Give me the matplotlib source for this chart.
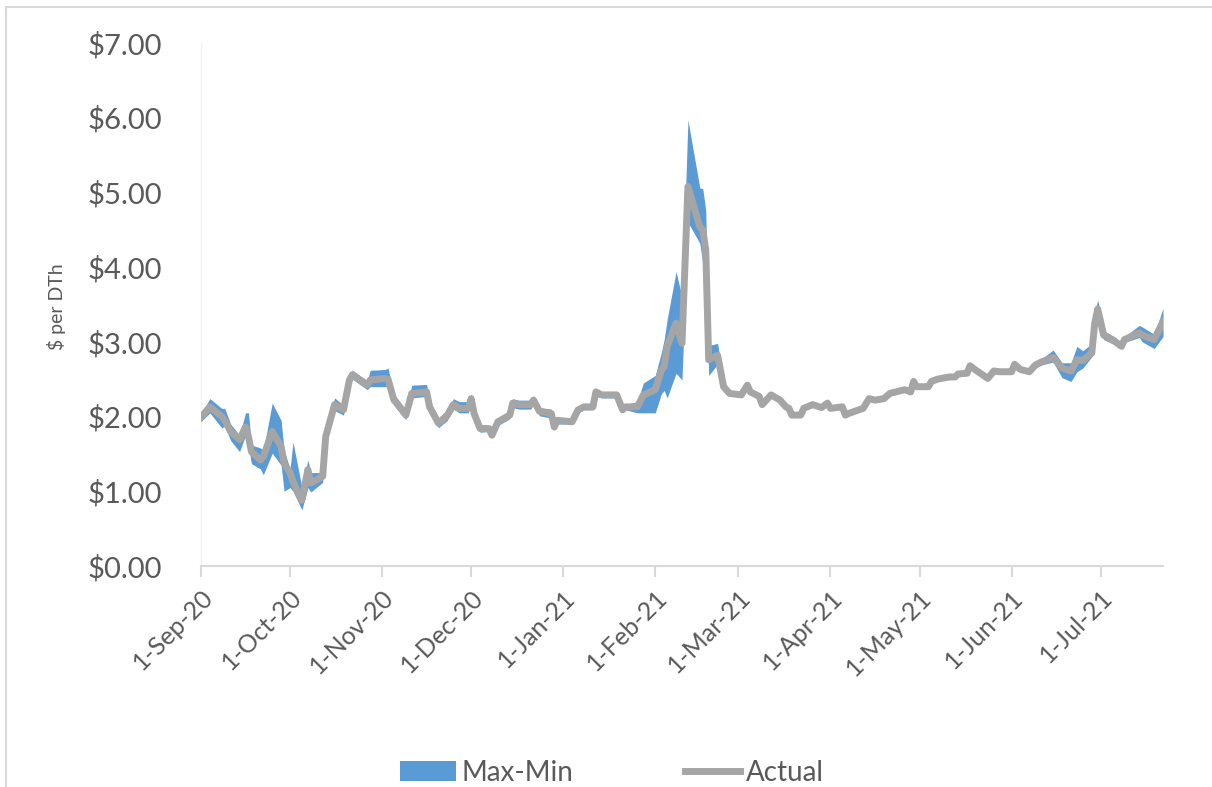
import pandas as pd
import matplotlib.pyplot as plt
import matplotlib.dates as mdates
from matplotlib.patches import Rectangle, Patch
from matplotlib.lines import Line2D
from matplotlib.ticker import FuncFormatter

plt.rcParams['font.family'] = ['Lato', 'DejaVu Sans']

# gas price, $ per DTh - actual and the max/min band
dates = ['2020-09-01', '2020-09-04', '2020-09-08', '2020-09-09', '2020-09-11', '2020-09-14',
         '2020-09-16', '2020-09-17', '2020-09-18', '2020-09-21', '2020-09-22', '2020-09-25',
         '2020-09-28', '2020-09-29', '2020-10-01', '2020-10-02', '2020-10-05', '2020-10-07',
         '2020-10-08', '2020-10-12', '2020-10-13', '2020-10-16', '2020-10-19', '2020-10-21',
         '2020-10-22', '2020-10-27', '2020-10-28', '2020-11-02', '2020-11-03', '2020-11-05',
         '2020-11-06', '2020-11-09', '2020-11-11', '2020-11-16', '2020-11-17', '2020-11-20',
         '2020-11-23', '2020-11-25', '2020-11-27', '2020-11-30', '2020-12-01', '2020-12-02',
         '2020-12-04', '2020-12-07', '2020-12-08', '2020-12-10', '2020-12-14', '2020-12-15',
         '2020-12-17', '2020-12-21', '2020-12-22', '2020-12-24', '2020-12-28', '2020-12-29',
         '2020-12-30', '2021-01-04', '2021-01-06', '2021-01-08', '2021-01-11', '2021-01-12',
         '2021-01-14', '2021-01-19', '2021-01-21', '2021-01-22', '2021-01-26', '2021-01-28',
         '2021-02-01', '2021-02-03', '2021-02-04', '2021-02-05', '2021-02-08', '2021-02-10',
         '2021-02-12', '2021-02-16', '2021-02-17', '2021-02-18', '2021-02-19', '2021-02-22',
         '2021-02-24', '2021-02-26', '2021-03-02', '2021-03-04', '2021-03-05', '2021-03-08',
         '2021-03-09', '2021-03-12', '2021-03-15', '2021-03-17', '2021-03-18', '2021-03-19',
         '2021-03-22', '2021-03-23', '2021-03-26', '2021-03-29', '2021-03-31', '2021-04-01',
         '2021-04-05', '2021-04-06', '2021-04-07', '2021-04-12', '2021-04-14', '2021-04-16',
         '2021-04-19', '2021-04-21', '2021-04-26', '2021-04-28', '2021-04-29', '2021-04-30',
         '2021-05-04', '2021-05-05', '2021-05-07', '2021-05-11', '2021-05-13', '2021-05-14',
         '2021-05-17', '2021-05-18', '2021-05-20', '2021-05-24', '2021-05-26', '2021-05-28',
         '2021-06-01', '2021-06-02', '2021-06-04', '2021-06-07', '2021-06-09', '2021-06-11',
         '2021-06-15', '2021-06-18', '2021-06-21', '2021-06-23', '2021-06-25', '2021-06-28',
         '2021-06-29', '2021-06-30', '2021-07-02', '2021-07-06', '2021-07-08', '2021-07-09',
         '2021-07-14', '2021-07-15', '2021-07-19', '2021-07-22']

actual = [1.99, 2.13, 2.00, 1.95, 1.80, 1.69, 1.86, 1.73, 1.53, 1.42, 1.46, 1.80,
          1.60, 1.37, 1.25, 1.13, 0.88, 1.29, 1.11, 1.20, 1.73, 2.16, 2.09, 2.49,
          2.56, 2.42, 2.49, 2.51, 2.50, 2.22, 2.18, 2.02, 2.31, 2.33, 2.13, 1.91,
          2.02, 2.16, 2.11, 2.11, 2.24, 2.04, 1.84, 1.84, 1.75, 1.93, 2.02, 2.18,
          2.16, 2.16, 2.22, 2.07, 2.04, 1.86, 1.95, 1.93, 2.09, 2.13, 2.13, 2.33,
          2.29, 2.29, 2.09, 2.13, 2.13, 2.29, 2.36, 2.62, 2.67, 2.94, 3.25, 2.98,
          5.08, 4.54, 4.50, 4.23, 2.76, 2.82, 2.40, 2.31, 2.29, 2.42, 2.33, 2.27,
          2.16, 2.29, 2.22, 2.13, 2.11, 2.02, 2.02, 2.11, 2.16, 2.12, 2.18, 2.11,
          2.13, 2.02, 2.04, 2.11, 2.24, 2.22, 2.24, 2.31, 2.36, 2.33, 2.47, 2.40,
          2.40, 2.47, 2.50, 2.53, 2.53, 2.57, 2.58, 2.68, 2.62, 2.51, 2.61, 2.60,
          2.60, 2.70, 2.63, 2.60, 2.69, 2.73, 2.79, 2.65, 2.61, 2.76, 2.75, 2.85,
          3.25, 3.44, 3.09, 3.00, 2.94, 3.03, 3.12, 3.09, 3.03, 3.27]

low = [1.93, 2.05, 1.85, 1.87, 1.68, 1.53, 1.75, 1.60, 1.37, 1.30, 1.22, 1.51,
       1.35, 1.00, 1.05, 1.00, 0.75, 1.05, 0.99, 1.12, 1.65, 2.08, 2.02, 2.42,
       2.50, 2.36, 2.40, 2.40, 2.40, 2.15, 2.10, 1.96, 2.25, 2.27, 2.07, 1.85,
       1.95, 2.10, 2.05, 2.05, 2.18, 1.99, 1.79, 1.80, 1.72, 1.88, 1.97, 2.12,
       2.10, 2.10, 2.16, 2.01, 1.98, 1.82, 1.90, 1.90, 2.05, 2.09, 2.09, 2.27,
       2.25, 2.25, 2.05, 2.09, 2.05, 2.05, 2.05, 2.30, 2.35, 2.25, 2.58, 2.49,
       4.60, 4.32, 4.05, 4.00, 2.55, 2.70, 2.35, 2.28, 2.26, 2.38, 2.30, 2.24,
       2.13, 2.26, 2.19, 2.10, 2.08, 2.00, 2.00, 2.08, 2.13, 2.10, 2.15, 2.08,
       2.10, 2.00, 2.01, 2.08, 2.21, 2.19, 2.21, 2.28, 2.33, 2.30, 2.43, 2.37,
       2.37, 2.44, 2.47, 2.50, 2.50, 2.54, 2.55, 2.64, 2.59, 2.48, 2.58, 2.57,
       2.57, 2.66, 2.60, 2.57, 2.65, 2.69, 2.73, 2.52, 2.47, 2.60, 2.65, 2.80,
       3.15, 3.35, 3.03, 2.96, 2.91, 2.99, 3.06, 3.00, 2.91, 3.07]

high = [2.04, 2.24, 2.11, 2.11, 1.90, 1.75, 2.05, 2.05, 1.62, 1.58, 1.55, 2.18,
        1.95, 1.55, 1.30, 1.66, 1.05, 1.42, 1.25, 1.25, 1.80, 2.25, 2.15, 2.55,
        2.62, 2.48, 2.62, 2.63, 2.65, 2.30, 2.25, 2.08, 2.42, 2.43, 2.18, 1.97,
        2.08, 2.24, 2.20, 2.20, 2.30, 2.10, 1.90, 1.88, 1.80, 1.98, 2.07, 2.24,
        2.22, 2.22, 2.28, 2.12, 2.10, 1.92, 1.99, 1.97, 2.12, 2.16, 2.16, 2.37,
        2.33, 2.33, 2.14, 2.16, 2.20, 2.45, 2.55, 2.85, 3.03, 3.30, 3.94, 3.60,
        5.97, 5.06, 5.05, 4.76, 2.95, 2.98, 2.45, 2.35, 2.33, 2.46, 2.36, 2.30,
        2.19, 2.32, 2.25, 2.16, 2.14, 2.05, 2.05, 2.14, 2.19, 2.15, 2.21, 2.14,
        2.16, 2.05, 2.07, 2.14, 2.27, 2.25, 2.27, 2.34, 2.39, 2.36, 2.50, 2.43,
        2.43, 2.50, 2.53, 2.56, 2.57, 2.60, 2.61, 2.72, 2.65, 2.54, 2.64, 2.63,
        2.63, 2.73, 2.66, 2.63, 2.72, 2.77, 2.89, 2.72, 2.72, 2.94, 2.88, 2.98,
        3.40, 3.56, 3.15, 3.06, 2.98, 3.07, 3.22, 3.20, 3.10, 3.45]

tick_dates = ['2020-09-01', '2020-10-01', '2020-11-01', '2020-12-01', '2021-01-01', '2021-02-01',
              '2021-03-01', '2021-04-01', '2021-05-01', '2021-06-01', '2021-07-01']

df = pd.DataFrame({'date': pd.to_datetime(dates), 'actual': actual, 'low': low, 'high': high})

fig = plt.figure(figsize=(12.12, 7.87), dpi=100)
ax = fig.add_axes([0.1658, 0.2808, 0.7938, 0.6646])

text_col = '#595959'

ax.fill_between(df['date'], df['low'], df['high'], color='#5b9bd5', linewidth=0, zorder=2)
ax.plot(df['date'], df['actual'], color='#a5a5a5', linewidth=5, solid_joinstyle='round', zorder=3)

ax.set_ylim(0, 7)
ax.set_xlim(df['date'].iloc[0], df['date'].iloc[-1])
ax.set_yticks(range(0, 8))
ax.yaxis.set_major_formatter(FuncFormatter(lambda v, p: f'${v:.2f}'))
ax.set_xticks(pd.to_datetime(tick_dates))
ax.xaxis.set_major_formatter(mdates.DateFormatter('1-%b-%y'))

for s in ['top', 'right']:
    ax.spines[s].set_visible(False)
ax.spines['left'].set_color('#edf2f8')
ax.spines['left'].set_linewidth(1)
ax.spines['bottom'].set_color('#d9d9d9')
ax.spines['bottom'].set_linewidth(1.5)

ax.tick_params(axis='y', length=0, pad=28, labelsize=21, labelcolor=text_col)
ax.tick_params(axis='x', length=8, width=1.5, color='#d9d9d9', direction='out',
               pad=6, labelsize=18, labelcolor=text_col)
for lbl in ax.get_xticklabels():
    lbl.set_rotation(45)
    lbl.set_ha('right')
    lbl.set_rotation_mode('anchor')

fig.text(0.047, 0.61, '$ per DTh', rotation=90, ha='center', va='center',
         fontsize=14, color=text_col)

# chart frame (cut off at the right and bottom)
fig.patches.append(Rectangle((6 / 1212, -0.1), 1.2, 1.1 - 7.5 / 787, transform=fig.transFigure,
                             fill=False, edgecolor='#d9d9d9', linewidth=1.5))

handles = [Patch(facecolor='#5b9bd5', edgecolor='none'),
           Line2D([0], [0], color='#a5a5a5', linewidth=5)]
fig.legend(handles, ['Max-Min', 'Actual'], loc='center', bbox_to_anchor=(0.505, 0.018),
           ncol=2, frameon=False, fontsize=20, labelcolor=text_col,
           handlelength=2.0, handletextpad=0.2, columnspacing=4.0)

fig.savefig('out.png', dpi=100)
